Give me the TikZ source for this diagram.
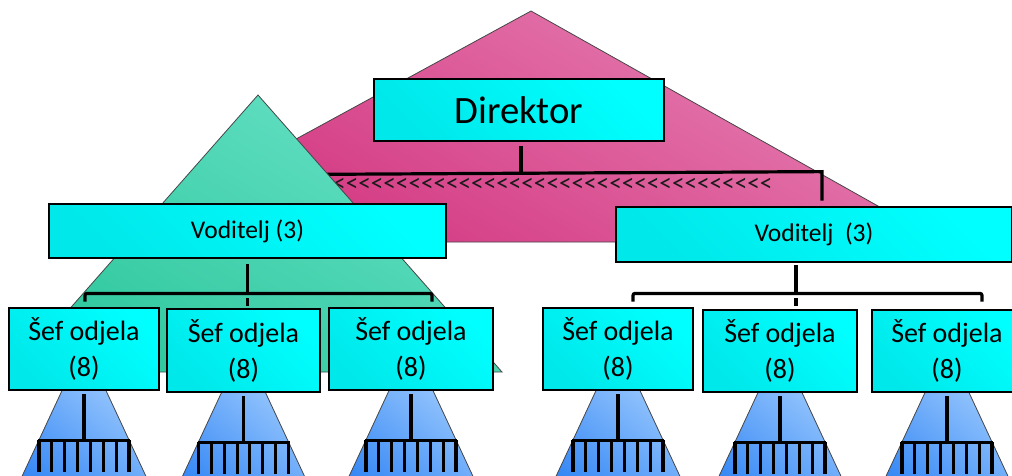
\documentclass[tikz,border=0pt]{standalone}
\usepackage{fontspec}
\setmainfont{Carlito}
\usetikzlibrary{calc}
\definecolor{cyanA}{RGB}{0,255,255}
\definecolor{cyanB}{RGB}{0,232,234}
\definecolor{pinkT}{RGB}{230,128,178}
\definecolor{pinkB}{RGB}{210,50,126}
\definecolor{greenT}{RGB}{100,224,196}
\definecolor{greenB}{RGB}{48,200,158}
\definecolor{blueT}{RGB}{172,212,255}
\definecolor{blueB}{RGB}{54,136,245}
\definecolor{edgec}{RGB}{70,70,70}
\pgfdeclarelayer{pinkL}
\pgfdeclarelayer{dirL}
\pgfdeclarelayer{triL}
\pgfdeclarelayer{lineL}
\pgfsetlayers{pinkL,dirL,triL,lineL,main}
\newcommand\chv{<\kern0pt}
\tikzset{
  box/.style={draw=black, line width=2.8pt, top color=cyanA, bottom color=cyanB,
    shading angle=-45, inner sep=0pt, align=center, text=black},
  sefbox/.style={box, font=\fontsize{28}{36}\selectfont},
  vodbox/.style={box, font=\fontsize{25.5}{30}\selectfont},
  conn/.style={draw=black, line width=3.2pt},
  tree/.style={draw=black, line width=3.1pt},
  tri/.style={draw=edgec, line width=0.8pt},
  chev/.style={font=\fontsize{25.2}{30}\selectfont, text=black!90, inner sep=0pt}
}
\begin{document}
\begin{tikzpicture}[x=1pt,y=-1pt]
\useasboundingbox (0,0) rectangle (1012,475);
\clip (0,0) rectangle (1012,475);

% boxes
\node[box, font=\fontsize{38.7}{46}\selectfont, minimum width=290pt, minimum height=62pt] (dir) at (519,110) {Direktor};
\node[vodbox, minimum width=397pt, minimum height=54pt] (vodL) at (247.5,231) {Voditelj (3)};
\node[vodbox, minimum width=396pt, minimum height=55pt] (vodR) at (814,234.5) {Voditelj\ \ (3)};
\node[sefbox, minimum width=150pt, minimum height=82pt] (s1) at (84,349) {Šef odjela\\(8)};
\node[sefbox, minimum width=153pt, minimum height=83pt] (s2) at (243.5,350.5) {Šef odjela\\(8)};
\node[sefbox, minimum width=164pt, minimum height=82pt] (s3) at (411,349) {Šef odjela\\(8)};
\node[sefbox, minimum width=150pt, minimum height=82pt] (s4) at (618,349) {Šef odjela\\(8)};
\node[sefbox, minimum width=154pt, minimum height=82pt] (s5) at (780,351) {Šef odjela\\(8)};
\node[sefbox, minimum width=150pt, minimum height=82pt] (s6) at (947,351) {Šef odjela\\(8)};

% pink triangle
\begin{pgfonlayer}{pinkL}
\path[tri, top color=pinkT, bottom color=pinkB, shading angle=-30]
  (531,11) coordinate (pA) -- (107,242) -- (942,242) -- cycle;
\end{pgfonlayer}

% director connectors and chevrons
\begin{pgfonlayer}{dirL}
\draw[conn] ($(dir.south)+(2,4)$) -- ($(dir.south)+(2,32)$);
\draw[conn] ($(dir.south)+(-210,32)$) -- ($(vodR.north)+(8,-34)$) -- ($(vodR.north)+(8,-5)$);
\node[chev, anchor=west] (chev) at (333,185) {\chv\chv\chv\chv\chv\chv\chv\chv\chv\chv\chv\chv\chv\chv\chv\chv\chv\chv\chv\chv\chv\chv\chv\chv\chv\chv\chv\chv\chv\chv\chv\chv\chv\chv\chv};
\end{pgfonlayer}

% green and blue triangles
\begin{pgfonlayer}{triL}
\path[tri, top color=greenT, bottom color=greenB, shading angle=-30]
  (258,95) coordinate (gA) -- (14,372) -- (502,372) -- cycle;
\foreach \s in {s1,s2,s3,s4,s5,s6}{
  \path[tri, top color=blueT, bottom color=blueB, shading angle=-40]
    ($(\s.south)+(0,-48)$) -- ++(-74.6,160) -- ++(149.2,0) -- cycle;
}
\end{pgfonlayer}

% tree connectors
\begin{pgfonlayer}{lineL}
\draw[conn] ($(vodL.south)+(0,5)$) -- ($(vodL.south)+(0,34)$);
\draw[conn, rounded corners=2pt] ($(s1.north)+(1,-5)$) |- ($(vodL.south)+(0,34)$) -| ($(s3.north)+(21,-5)$);
\draw[conn] ($(vodL.south)+(0,39)$) -- ($(vodL.south)+(0,47)$);

\draw[conn] ($(vodR.south)+(-18,2)$) -- ($(vodR.south)+(-18,30)$);
\draw[conn, rounded corners=2pt] ($(s4.north)+(15,-5)$) |- ($(vodR.south)+(-18,30)$) -| ($(s6.north)+(35,-7)$);
\draw[conn] ($(vodR.south)+(-18,35)$) -- ($(vodR.south)+(-18,43)$);

\foreach \s in {s1,s2,s3,s4,s5,s6}{
  \draw[tree] ($(\s.south)+(0,3)$) -- ($(\s.south)+(0,49)$);
  \draw[tree] ($(\s.south)+(-46,49)$) -- ($(\s.south)+(46,49)$);
  \foreach \k in {0,...,7}{
    \draw[tree] ($(\s.south)+(-45+\k*12.857,49)$) -- ++(0,32);
  }
}
\end{pgfonlayer}
\end{tikzpicture}
\end{document}
